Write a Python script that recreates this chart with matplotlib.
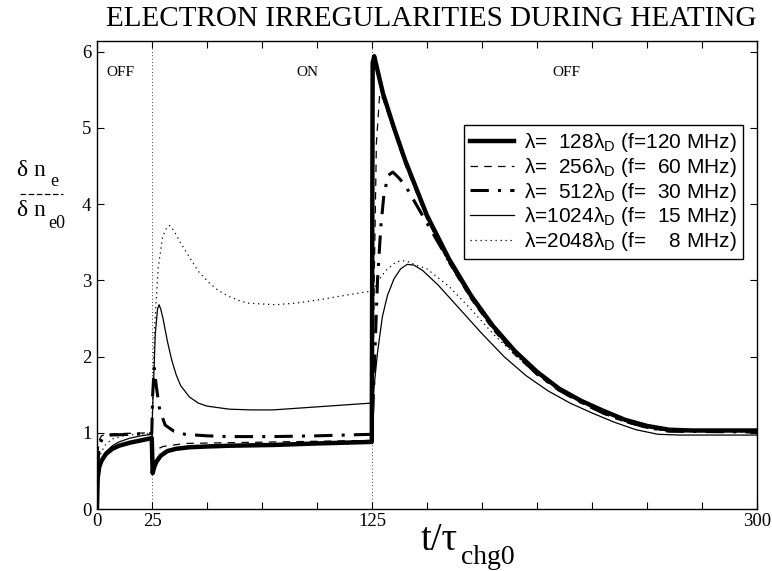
import matplotlib
matplotlib.use("Agg")
import matplotlib.pyplot as plt
from matplotlib.lines import Line2D

plt.rcParams['mathtext.fontset'] = 'custom'
plt.rcParams['mathtext.rm'] = 'Liberation Sans'
plt.rcParams['mathtext.it'] = 'Liberation Sans:italic'

SERIF = 'Liberation Serif'
SANS = 'Liberation Sans'

# ---- data -------------------------------------------------------------
# lambda = 128 lambda_D  (f = 120 MHz)
t_128 = [0, 0.3, 1, 2, 4, 7, 10, 15, 20, 24.9, 25.3, 26, 27, 29, 32, 36, 42, 50, 60,
         80, 100, 124.9, 125.3, 126, 130, 135, 140, 150, 160, 170, 180, 190, 200,
         210, 220, 230, 240, 250, 260, 270, 285, 300]
n_128 = [0, 0.40, 0.55, 0.63, 0.72, 0.79, 0.83, 0.87, 0.90, 0.93, 0.47, 0.55, 0.62,
         0.70, 0.76, 0.79, 0.81, 0.82, 0.83, 0.84, 0.86, 0.88, 5.85, 5.94, 5.45,
         5.00, 4.58, 3.85, 3.28, 2.80, 2.40, 2.07, 1.80, 1.58, 1.42, 1.29, 1.17,
         1.09, 1.04, 1.03, 1.03, 1.03]

# lambda = 256 lambda_D  (f = 60 MHz)
t_256 = [0, 0.3, 1, 2, 4, 10, 24.9, 25.3, 27, 30, 40, 60, 124.9, 125.3, 126, 127,
         128.5, 130, 135, 140, 150, 160, 170, 180, 190, 200, 210, 220, 230, 240,
         250, 260, 300]
n_256 = [0, 0.70, 0.90, 0.96, 0.98, 0.99, 1.00, 0.75, 0.78, 0.82, 0.86, 0.87, 0.90,
         1.20, 3.00, 4.80, 5.45, 5.38, 4.95, 4.52, 3.80, 3.22, 2.75, 2.35, 2.02,
         1.76, 1.55, 1.39, 1.25, 1.14, 1.06, 1.02, 1.02]

# lambda = 512 lambda_D  (f = 30 MHz)
t_512 = [0, 0.3, 1, 2, 3, 6, 24.9, 25.3, 26, 27, 28.5, 31, 35, 40, 50, 60, 80, 100,
         124.9, 125.5, 126.5, 127.5, 129, 130.5, 132.5, 134.5, 137, 140, 150, 160,
         170, 180, 190, 200, 210, 220, 230, 240, 250, 260, 300]
n_512 = [0, 0.60, 0.80, 0.90, 0.95, 0.97, 0.99, 1.50, 1.85, 1.60, 1.30, 1.10, 1.02,
         0.98, 0.96, 0.95, 0.95, 0.96, 0.98, 1.40, 2.20, 3.00, 3.70, 4.15, 4.38,
         4.42, 4.35, 4.25, 3.75, 3.25, 2.78, 2.38, 2.05, 1.77, 1.56, 1.40, 1.26,
         1.15, 1.07, 1.02, 1.01]

# lambda = 1024 lambda_D  (f = 15 MHz)
t_1024 = [0, 0.5, 1, 2, 4, 7, 10, 15, 20, 24.9, 25.5, 26.5, 27.5, 28.2, 29, 30, 32,
          34, 36, 38, 42, 46, 50, 60, 70, 80, 90, 100, 110, 124.9, 125.5, 126,
          127.5, 129.7, 132, 135, 138, 141, 144, 148, 155, 165, 175, 185, 195, 205,
          215, 225, 235, 245, 255, 265, 300]
n_1024 = [0, 0.45, 0.55, 0.65, 0.75, 0.83, 0.88, 0.93, 0.96, 0.98, 1.50, 2.30, 2.62,
          2.68, 2.62, 2.50, 2.20, 1.95, 1.76, 1.62, 1.47, 1.39, 1.35, 1.31, 1.30,
          1.30, 1.32, 1.34, 1.36, 1.39, 1.45, 1.62, 2.05, 2.52, 2.80, 3.02, 3.15,
          3.21, 3.20, 3.13, 2.94, 2.62, 2.30, 2.00, 1.75, 1.55, 1.39, 1.26, 1.14,
          1.04, 0.98, 0.97, 0.97]

# lambda = 2048 lambda_D  (f = 8 MHz)
t_2048 = [0, 0.3, 1, 2, 4, 7, 12, 18, 24.9, 25.5, 26, 26.9, 27.9, 29.8, 31.5, 33,
          35, 38, 41.9, 46, 50.9, 55, 59.9, 65, 69, 75, 81, 90, 100, 110, 124.9,
          126, 128, 131, 135, 138, 141, 145, 150, 160, 170, 180, 190, 200, 210,
          220, 230, 240, 250, 260, 300]
n_2048 = [0, 0.50, 0.65, 0.75, 0.85, 0.92, 0.96, 0.98, 0.99, 1.60, 2.30, 2.74, 3.18,
          3.57, 3.68, 3.72, 3.65, 3.49, 3.31, 3.12, 2.97, 2.87, 2.79, 2.73, 2.70,
          2.69, 2.68, 2.70, 2.74, 2.79, 2.86, 2.90, 3.00, 3.12, 3.22, 3.26, 3.25,
          3.20, 3.15, 2.92, 2.62, 2.30, 2.02, 1.77, 1.57, 1.41, 1.27, 1.16, 1.07,
          1.02, 1.01]

labels = [r"λ=  128λ$_{\mathrm{D}}$ (f=120 MHz)",
          r"λ=  256λ$_{\mathrm{D}}$ (f=  60 MHz)",
          r"λ=  512λ$_{\mathrm{D}}$ (f=  30 MHz)",
          r"λ=1024λ$_{\mathrm{D}}$ (f=  15 MHz)",
          r"λ=2048λ$_{\mathrm{D}}$ (f=    8 MHz)"]

heating_on = 25
heating_off = 125
x_ticks = list(range(0, 301, 25))
x_ticklabels = {0: '0', 25: '25', 125: '125', 300: '300'}
y_ticks = [0, 1, 2, 3, 4, 5, 6]
phase_labels = [(10.8, 'OFF'), (95.5, 'ON'), (213.5, 'OFF')]

# ---- figure -----------------------------------------------------------
W, H = 772, 571
AX_L, AX_R, AX_T, AX_B = 97, 757, 41, 509
fig = plt.figure(figsize=(W / 100, H / 100), dpi=100)
ax = fig.add_axes([AX_L / W, 1 - AX_B / H, (AX_R - AX_L) / W, (AX_B - AX_T) / H])

ax.plot(t_128, n_128, color='black', lw=3.2, ls='-', label=labels[0])
ax.plot(t_256, n_256, color='black', lw=0.9, ls=(0, (6, 5)), label=labels[1])
ax.plot(t_512, n_512, color='black', lw=2.2, ls=(0, (6, 3, 1, 3)), label=labels[2])
ax.plot(t_1024, n_1024, color='black', lw=0.9, ls='-', label=labels[3])
ax.plot(t_2048, n_2048, color='black', lw=0.9, ls=(0, (1, 3)), label=labels[4])

for tx in (heating_on, heating_off):
    ax.axvline(tx, color='black', lw=0.6, ls=(0, (1, 3)))

for tx, s in phase_labels:
    ax.text(tx, 5.73, s, ha='center', va='center', fontsize=11, family=SERIF)

ax.set_xlim(0, 300)
ax.set_ylim(0, 6.14)
ax.set_xticks(x_ticks)
ax.set_xticklabels([x_ticklabels.get(v, '') for v in x_ticks])
ax.set_yticks(y_ticks)
ax.tick_params(direction='in', length=5, width=0.8, top=True, right=True,
               labelsize=13.5)
ax.tick_params(axis='x', pad=3)
ax.tick_params(axis='y', pad=4)
for lab in ax.get_xticklabels() + ax.get_yticklabels():
    lab.set_family(SERIF)
for sp in ax.spines.values():
    sp.set_linewidth(1.0)

leg = ax.legend(loc='upper right', bbox_to_anchor=(743 / W, 1 - 125 / H),
                bbox_transform=fig.transFigure, borderaxespad=0,
                fancybox=False, framealpha=1, edgecolor='black',
                prop={'family': SANS, 'size': 15}, handlelength=2.1,
                handletextpad=0.5, labelspacing=0.08, borderpad=0.3)
leg.get_frame().set_linewidth(1.0)

# title and axis labels
fig.text((AX_L + AX_R) / 2 / W + 0.006, 1 - 19.5 / H,
         'ELECTRON IRREGULARITIES DURING HEATING',
         ha='center', va='center', fontsize=21, family=SERIF)
fig.text(458 / W, 1 - 540 / H, 't/τ', ha='right', va='center',
         fontsize=28, family=SERIF)
fig.text(461 / W, 1 - 557 / H, 'chg0', ha='left', va='center',
         fontsize=20, family=SERIF)

# stacked ratio label on the left
fig.text(31 / W, 1 - 170 / H, 'δ n', ha='center', va='center', fontsize=17, family=SERIF)
fig.text(50 / W, 1 - 181 / H, 'e', ha='left', va='center', fontsize=13, family=SERIF)
fig.add_artist(Line2D([20 / W, 63 / W], [1 - 194 / H, 1 - 194 / H],
                      transform=fig.transFigure, color='black', lw=0.9,
                      ls=(0, (4.5, 2))))
fig.text(31 / W, 1 - 210 / H, 'δ n', ha='center', va='center', fontsize=17, family=SERIF)
fig.text(48 / W, 1 - 223 / H, 'e0', ha='left', va='center', fontsize=13, family=SERIF)

fig.savefig('out.png', dpi=100)
